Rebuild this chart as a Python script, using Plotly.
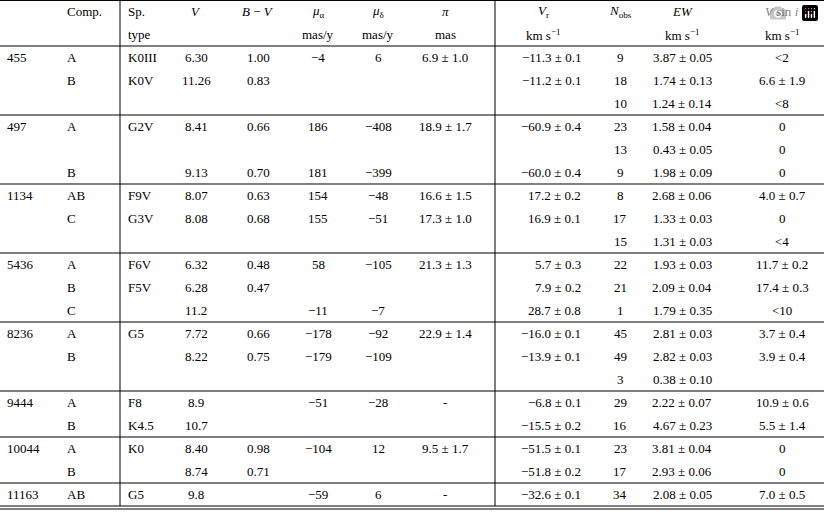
import plotly.graph_objects as go

M = "\u2212"
PM = " \u00b1 "

star = ["455", "", "", "497", "", "", "1134", "", "", "5436", "", "", "8236", "", "",
        "9444", "", "10044", "", "11163"]
comp = ["A", "B", "", "A", "", "B", "AB", "C", "", "A", "B", "C", "A", "B", "",
        "A", "B", "A", "B", "AB"]
sptype = ["K0III", "K0V", "", "G2V", "", "", "F9V", "G3V", "", "F6V", "F5V", "", "G5", "", "",
          "F8", "K4.5", "K0", "", "G5"]
vmag = ["6.30", "11.26", "", "8.41", "", "9.13", "8.07", "8.08", "", "6.32", "6.28", "11.2",
        "7.72", "8.22", "", "8.9", "10.7", "8.40", "8.74", "9.8"]
bv = ["1.00", "0.83", "", "0.66", "", "0.70", "0.63", "0.68", "", "0.48", "0.47", "",
      "0.66", "0.75", "", "", "", "0.98", "0.71", ""]
mua = [M + "4", "", "", "186", "", "181", "154", "155", "", "58", "", M + "11",
       M + "178", M + "179", "", M + "51", "", M + "104", "", M + "59"]
mud = ["6", "", "", M + "408", "", M + "399", M + "48", M + "51", "", M + "105", "", M + "7",
       M + "92", M + "109", "", M + "28", "", "12", "", "6"]
plx = ["6.9" + PM + "1.0", "", "", "18.9" + PM + "1.7", "", "", "16.6" + PM + "1.5",
       "17.3" + PM + "1.0", "", "21.3" + PM + "1.3", "", "", "22.9" + PM + "1.4", "", "",
       "-", "", "9.5" + PM + "1.7", "", "-"]
vr = [M + "11.3" + PM + "0.1", M + "11.2" + PM + "0.1", "", M + "60.9" + PM + "0.4", "",
      M + "60.0" + PM + "0.4", "17.2" + PM + "0.2", "16.9" + PM + "0.1", "",
      "5.7" + PM + "0.3", "7.9" + PM + "0.2", "28.7" + PM + "0.8",
      M + "16.0" + PM + "0.1", M + "13.9" + PM + "0.1", "",
      M + "6.8" + PM + "0.1", M + "15.5" + PM + "0.2",
      M + "51.5" + PM + "0.1", M + "51.8" + PM + "0.2", M + "32.6" + PM + "0.1"]
nobs = ["9", "18", "10", "23", "13", "9", "8", "17", "15", "22", "21", "1", "45", "49", "3",
        "29", "16", "23", "17", "34"]
ew = ["3.87" + PM + "0.05", "1.74" + PM + "0.13", "1.24" + PM + "0.14",
      "1.58" + PM + "0.04", "0.43" + PM + "0.05", "1.98" + PM + "0.09",
      "2.68" + PM + "0.06", "1.33" + PM + "0.03", "1.31" + PM + "0.03",
      "1.93" + PM + "0.03", "2.09" + PM + "0.04", "1.79" + PM + "0.35",
      "2.81" + PM + "0.03", "2.82" + PM + "0.03", "0.38" + PM + "0.10",
      "2.22" + PM + "0.07", "4.67" + PM + "0.23", "3.81" + PM + "0.04",
      "2.93" + PM + "0.06", "2.08" + PM + "0.05"]
vsini = ["&lt;2", "6.6" + PM + "1.9", "&lt;8", "0", "0", "0", "4.0" + PM + "0.7", "0", "&lt;4",
         "11.7" + PM + "0.2", "17.4" + PM + "0.3", "&lt;10", "3.7" + PM + "0.4",
         "3.9" + PM + "0.4", "", "10.9" + PM + "0.6", "5.5" + PM + "1.4", "0", "0",
         "7.0" + PM + "0.5"]

head1 = ["", "Comp.", "Sp.", "<i>V</i>", "<i>B</i> \u2212 <i>V</i>", "<i>\u03bc</i><sub>\u03b1</sub>",
         "<i>\u03bc</i><sub>\u03b4</sub>", "<i>\u03c0</i>", "<i>V</i><sub>r</sub>",
         "<i>N</i><sub>obs</sub>", "<i>EW</i>", "<i>V</i> sin <i>i</i>"]
kms = "km s<sup>\u22121</sup>"
head2 = ["", "", "type", "", "", "mas/y", "mas/y", "mas", kms, "", kms, kms]

columns = [star, comp, sptype, vmag, bv, mua, mud, plx, vr, nobs, ew, vsini]
# (x, anchor) per column
col_pos = [(5, "left"), (65, "left"), (126, "left"), (196, "center"), (258, "center"),
           (318, "center"), (378, "center"), (445, "center"), (583, "right"),
           (620, "center"), (682, "center"), (782, "center")]
head_pos = list(col_pos)
head_pos[8] = (543, "center")

ROW = 23
TOP = 2 * ROW
font = dict(family="Liberation Serif", size=13, color="black")

ann = []
for (x, anc), h1, h2 in zip(head_pos, head1, head2):
    for k, t in enumerate([h1, h2]):
        if t:
            ann.append(dict(x=x, y=ROW * k + ROW / 2, text=t, xanchor=anc, yanchor="middle",
                            showarrow=False, font=font))
for (x, anc), col in zip(col_pos, columns):
    for r, t in enumerate(col):
        if t:
            ann.append(dict(x=x, y=TOP + ROW * r + ROW / 2, text=t,
                            xanchor=anc, yanchor="middle", showarrow=False, font=font))

nrows = len(star)
bottom = TOP + ROW * nrows
line = dict(color="black", width=1)
shapes = [dict(type="line", x0=0, x1=824, y0=0.5, y1=0.5, line=line),
          dict(type="line", x0=0, x1=824, y0=TOP, y1=TOP, line=line),
          dict(type="line", x0=0, x1=824, y0=bottom, y1=bottom, line=line),
          dict(type="line", x0=0, x1=824, y0=bottom + 3, y1=bottom + 3, line=line)]
for r in range(1, nrows):
    if star[r]:
        y = TOP + ROW * r
        shapes.append(dict(type="line", x0=0, x1=824, y0=y, y1=y, line=line))
for x in (120, 495):
    shapes.append(dict(type="line", x0=x, x1=x, y0=0, y1=bottom, line=line))

fig = go.Figure()
fig.update_layout(width=824, height=512, margin=dict(l=0, r=0, t=0, b=0),
                  paper_bgcolor="white", plot_bgcolor="white",
                  xaxis=dict(range=[0, 824], visible=False, fixedrange=True),
                  yaxis=dict(range=[512, 0], visible=False, fixedrange=True),
                  annotations=ann, shapes=shapes, showlegend=False)
fig.write_html("out.html", post_script="document.body.style.margin='0';")
